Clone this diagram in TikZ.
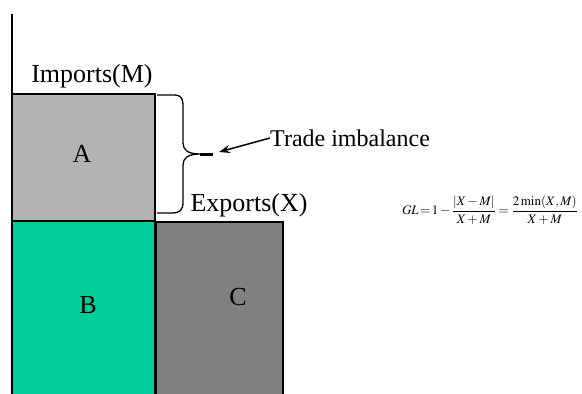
\documentclass[tikz,border=0pt]{standalone}
\usepackage{mathptmx}
\usepackage{fontspec}
\setmainfont{Liberation Serif}
\usetikzlibrary{arrows.meta}
\definecolor{agray}{HTML}{B3B3B3}
\definecolor{bgreen}{HTML}{00CC99}
\definecolor{cgray}{HTML}{808080}
\tikzset{
  blk/.style={draw=black, line width=2.4pt, rectangle, inner sep=0pt},
  lbl/.style={font=\fontsize{26}{28}\selectfont, inner sep=0pt},
  txt/.style={font=\fontsize{24}{26}\selectfont, inner sep=0pt},
}
\begin{document}
\begin{tikzpicture}[x=1pt,y=-1pt]
\useasboundingbox (0,0) rectangle (582,394);
\clip (0,0) rectangle (582,394);
\fill[white] (0,0) rectangle (582,394);
% boxes
\node[blk, fill=bgreen, minimum width=143pt, minimum height=175pt] (boxB) at (83.5,308.5) {};
\node[blk, fill=cgray, minimum width=127pt, minimum height=174pt] (boxC) at (219.5,309) {};
\node[blk, fill=agray, minimum width=143pt, minimum height=127pt] (boxA) at (83.5,157.5) {};
% axis
\draw[line width=1.6pt] (12,14) -- (12,394);
% letters
\node[lbl] (la) at (82,154) {A};
\node[lbl] (lb) at (88,305) {B};
\node[lbl] (lc) at (238,297) {C};
% titles
\node[lbl] (imp) at (92,76) {Imports(M)};
\node[lbl] (exp) at (249,205) {Exports(X)};
% brace
\coordinate (btop) at (157,95);
\coordinate (bbot) at (157,213);
\coordinate (btip) at (200,154);
\coordinate (bend) at (213,154);
\draw[line width=1.3pt] (btop) -- (174,95) .. controls (182,95) and (183,99) .. (183,107)
  -- (183,143) .. controls (183,150) and (188,154) .. (btip)
  .. controls (188,154) and (183,158) .. (183,165)
  -- (183,202) .. controls (183,210) and (180,213) .. (172,213) -- (bbot);
\draw[line width=3pt] (btip) -- (bend);
% trade imbalance
\node[txt, anchor=west] (trade) at (270,138) {Trade imbalance};
\coordinate (ahead) at (219,152);
\draw[line width=1.5pt, -{Stealth[length=11pt,width=8pt]}] (trade.west) -- (ahead);
% formula
\node[inner sep=0pt, font=\fontsize{13}{15}\selectfont] (gl) at (490,210)
  {$\displaystyle GL\!=\!1-\frac{\left|X-M\right|}{X+M}=\frac{2\min(X,M)}{X+M}$};
\end{tikzpicture}
\end{document}
